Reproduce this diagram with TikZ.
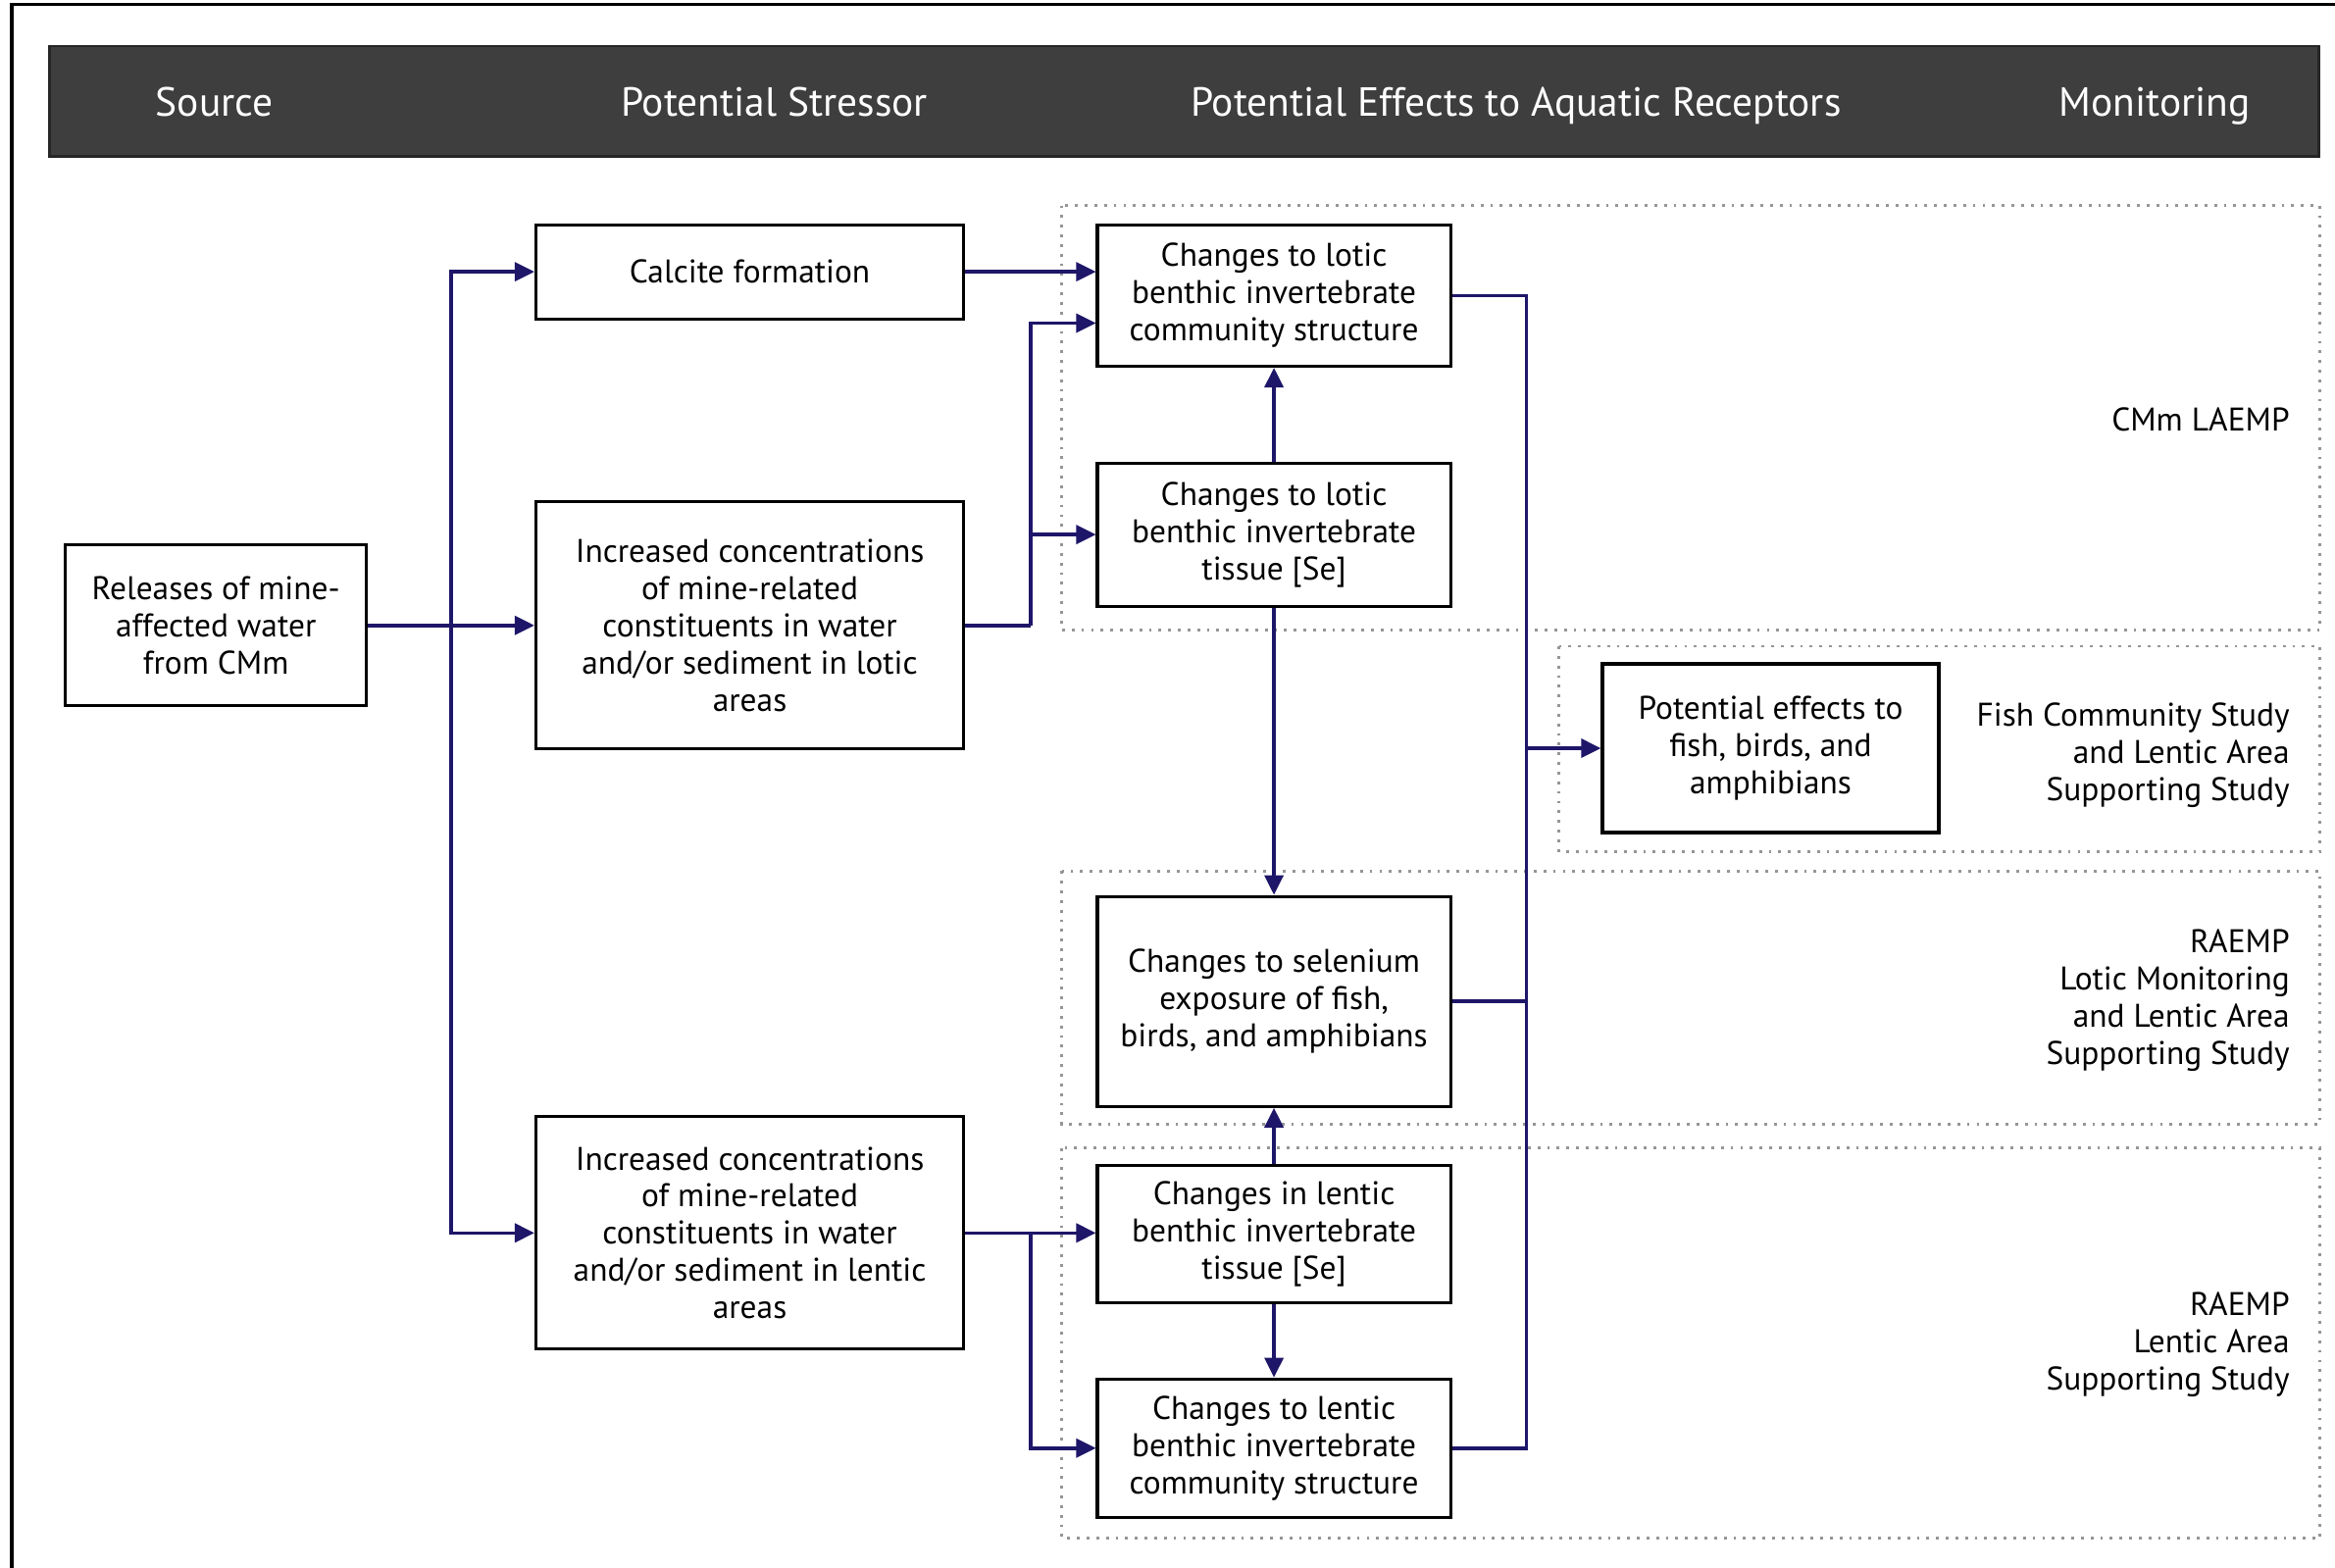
\documentclass[tikz,border=0pt]{standalone}
\usepackage{fontspec}
\setmainfont{PT Sans}
\usetikzlibrary{arrows.meta,positioning,calc}
\definecolor{flink}{RGB}{30,22,104}
\definecolor{fhead}{RGB}{62,62,62}
\definecolor{fgrp}{RGB}{150,150,150}
\tikzset{
  fbox/.style={
    draw=black, line width=0.9pt, fill=white,
    align=center, inner sep=2pt, font=\fontsize{9.5}{10.8}\selectfont
  },
  stress/.style={fbox, minimum width=4.36cm},
  effect/.style={fbox, minimum width=3.60cm},
  link/.style={draw=flink, line width=1pt},
  arr/.style={link, -{Triangle[length=2mm,width=1.9mm]}},
  grp/.style={draw=fgrp, dotted, line width=0.8pt},
  hdr/.style={text=white, anchor=base, font=\fontsize{11.8}{14}\selectfont},
  mon/.style={anchor=east, align=right, inner sep=0pt, font=\fontsize{9.5}{10.8}\selectfont}
}
\begin{document}
\begin{tikzpicture}[x=0.015185cm, y=-0.015185cm]
  \useasboundingbox (0,0) rectangle (1568,1053);
  % frame and header
  \draw[line width=1pt] (8,1053) -- (8,3) -- (1568,3);
  \draw[fill=fhead, draw=black!85, line width=0.8pt] (33,31) rectangle (1557,105);
  \node[hdr] (hsrc) at (144,78) {Source};
  \node[hdr] (hstr) at (520,78) {Potential Stressor};
  \node[hdr] (heff) at (1018,78) {Potential Effects to Aquatic Receptors};
  \node[hdr] (hmon) at (1447,78) {Monitoring};
  % monitoring groups
  \draw[grp] (713,138) rectangle (1558,423);
  \draw[grp] (1047,434) rectangle (1558,572);
  \draw[grp] (713,585) rectangle (1558,755);
  \draw[grp] (713,771) rectangle (1558,1033);
  \node[mon] (m1) at (1538,282) {CMm LAEMP};
  \node[mon] (m2) at (1538,507) {Fish Community Study\\and Lentic Area\\Supporting Study};
  \node[mon] (m3) at (1538,672) {RAEMP\\Lotic Monitoring\\and Lentic Area\\Supporting Study};
  \node[mon] (m4) at (1538,903) {RAEMP\\Lentic Area\\Supporting Study};
  % boxes
  \node[fbox, minimum width=3.07cm, minimum height=1.64cm] (src) at (145,420)
    {Releases of mine-\\affected water\\from CMm};
  \node[stress, minimum height=0.96cm] (calc) at (503.5,182.5) {Calcite formation};
  \node[stress, minimum height=2.52cm] (lotstr) at (503.5,420)
    {Increased concentrations\\of mine-related\\constituents in water\\and/or sediment in lotic\\areas};
  \node[stress, minimum height=2.37cm] (lenstr) at (503.5,828)
    {Increased concentrations\\of mine-related\\constituents in water\\and/or sediment in lentic\\areas};
  \node[effect, minimum height=1.44cm] (lotcom) at (855.5,198.5)
    {Changes to lotic\\benthic invertebrate\\community structure};
  \node[effect, minimum height=1.46cm] (lottis) at (855.5,359)
    {Changes to lotic\\benthic invertebrate\\tissue [Se]};
  \node[effect, minimum height=2.14cm] (seexp) at (855.5,672.5)
    {Changes to selenium\\exposure of fish,\\birds, and amphibians};
  \node[effect, minimum height=1.40cm] (lentis) at (855.5,829)
    {Changes in lentic\\benthic invertebrate\\tissue [Se]};
  \node[effect, minimum height=1.41cm] (lencom) at (855.5,972.5)
    {Changes to lentic\\benthic invertebrate\\community structure};
  \node[fbox, minimum width=3.43cm, minimum height=1.72cm] (fx) at (1189,502.5)
    {Potential effects to\\fish, birds, and\\amphibians};
  % junctions
  \coordinate (jsrc) at (303,420);
  \coordinate (jlot) at (692,420);
  \coordinate (jlen) at (692,828);
  \coordinate (ylot) at (0,217);
  \coordinate (bus) at (1025,0);
  % connectors
  \draw[arr] (src.east) -- (lotstr.west);
  \draw[arr] (jsrc) |- (calc.west);
  \draw[arr] (jsrc) |- (lenstr.west);
  \draw[arr] (calc.east) -- (calc.east -| lotcom.west);
  \draw[link] (lotstr.east) -- (jlot);
  \draw[arr] (jlot) |- (lotcom.west |- ylot);
  \draw[arr] (jlot) |- (lottis.west);
  \draw[arr] (lottis.north) -- (lotcom.south);
  \draw[arr] (lottis.south) -- (seexp.north);
  \draw[arr] (lentis.north) -- (seexp.south);
  \draw[arr] (lentis.south) -- (lencom.north);
  \draw[arr] (lenstr.east) -- (lenstr.east -| lentis.west);
  \draw[arr] (jlen) |- (lencom.west);
  \draw[link] (lotcom.east) -| (bus |- lencom.east) -- (lencom.east);
  \draw[link] (seexp.east) -- (seexp.east -| bus);
  \draw[arr] (bus |- fx.west) -- (fx.west);
\end{tikzpicture}
\end{document}
